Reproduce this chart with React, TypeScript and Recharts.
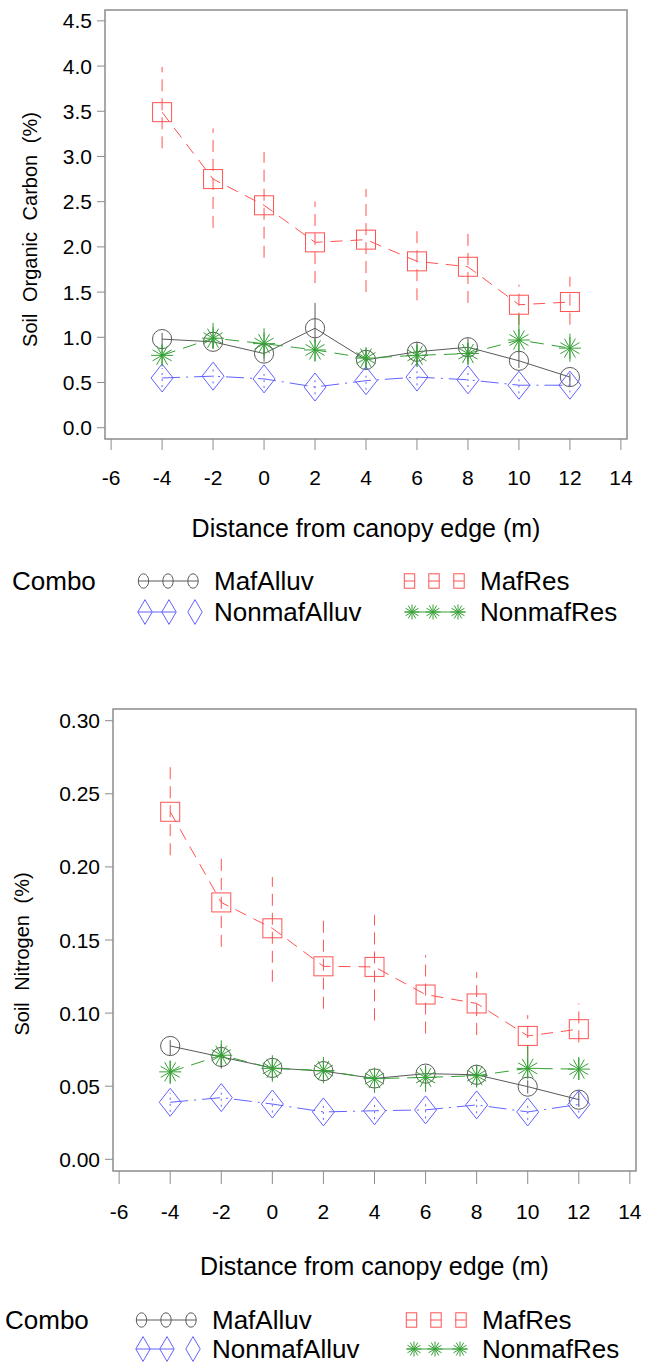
import React from 'react';
import { LineChart, Line, XAxis, YAxis, ErrorBar, ReferenceArea } from 'recharts';

// sampling positions (m from canopy edge) and axis ticks
const distance = [-4, -2, 0, 2, 4, 6, 8, 10, 12];
const xTicks = [-6, -4, -2, 0, 2, 4, 6, 8, 10, 12, 14];
const socTicks = [0, 0.5, 1, 1.5, 2, 2.5, 3, 3.5, 4, 4.5];
const nTicks = [0, 0.05, 0.1, 0.15, 0.2, 0.25, 0.3];

// soil organic carbon (%): mean, lower and upper bar ends
const socMafAlluv = [0.98, 0.95, 0.82, 1.1, 0.75, 0.84, 0.89, 0.74, 0.56];
const socMafAlluvLow = [0.88, 0.88, 0.73, 0.95, 0.64, 0.69, 0.73, 0.66, 0.47];
const socMafAlluvHigh = [1.05, 1.02, 0.91, 1.38, 0.86, 0.95, 0.99, 0.84, 0.6];
const socMafRes = [3.49, 2.75, 2.46, 2.05, 2.08, 1.84, 1.78, 1.36, 1.39];
const socMafResLow = [3.09, 2.21, 1.88, 1.6, 1.5, 1.41, 1.38, 1.14, 1.14];
const socMafResHigh = [3.99, 3.31, 3.05, 2.5, 2.64, 2.25, 2.18, 1.58, 1.67];
const socNonmafAlluv = [0.55, 0.57, 0.54, 0.45, 0.52, 0.56, 0.53, 0.47, 0.47];
const socNonmafAlluvLow = [0.45, 0.49, 0.44, 0.37, 0.42, 0.47, 0.45, 0.38, 0.39];
const socNonmafAlluvHigh = [0.66, 0.66, 0.64, 0.53, 0.61, 0.65, 0.62, 0.56, 0.55];
const socNonmafRes = [0.8, 0.99, 0.93, 0.86, 0.77, 0.8, 0.82, 0.97, 0.88];
const socNonmafResLow = [0.69, 0.88, 0.77, 0.73, 0.66, 0.67, 0.69, 0.83, 0.73];
const socNonmafResHigh = [0.91, 1.16, 1.1, 0.97, 0.88, 0.91, 0.94, 1.25, 1.04];

// soil nitrogen (%)
const nMafAlluv = [0.0775, 0.07, 0.0625, 0.0603, 0.0553, 0.0586, 0.0578, 0.0497, 0.0408];
const nMafAlluvLow = [0.0712, 0.062, 0.059, 0.0541, 0.0495, 0.0518, 0.0512, 0.045, 0.036];
const nMafAlluvHigh = [0.0815, 0.0758, 0.0678, 0.0666, 0.0609, 0.0643, 0.0636, 0.054, 0.047];
const nMafRes = [0.2377, 0.1757, 0.158, 0.132, 0.1316, 0.1127, 0.1066, 0.0844, 0.089];
const nMafResLow = [0.208, 0.1453, 0.1214, 0.103, 0.095, 0.086, 0.085, 0.07, 0.08];
const nMafResHigh = [0.2685, 0.2058, 0.193, 0.1636, 0.167, 0.1396, 0.128, 0.0986, 0.1066];
const nNonmafAlluv = [0.039, 0.0422, 0.0378, 0.0324, 0.0332, 0.0338, 0.0372, 0.0324, 0.0375];
const nNonmafAlluvLow = [0.0325, 0.036, 0.032, 0.027, 0.0275, 0.028, 0.0315, 0.027, 0.032];
const nNonmafAlluvHigh = [0.0455, 0.0487, 0.0435, 0.0378, 0.039, 0.0395, 0.043, 0.0378, 0.043];
const nNonmafRes = [0.0598, 0.0712, 0.0622, 0.0607, 0.0552, 0.056, 0.0572, 0.0622, 0.0617];
const nNonmafResLow = [0.0515, 0.063, 0.053, 0.052, 0.0454, 0.0461, 0.049, 0.056, 0.0545];
const nNonmafResHigh = [0.0676, 0.0814, 0.0712, 0.07, 0.0614, 0.062, 0.064, 0.078, 0.07];

const FONT = '"Liberation Sans", Arial, Helvetica, sans-serif';
const FRAME = '#8c8c8c';
const TICK_FONT = 21;
const LEGEND_FONT = 26;

type Shape = 'circle' | 'square' | 'diamond' | 'star';
type SeriesStyle = { key: string; name: string; color: string; dash?: string; barDash?: string; shape: Shape };

const SERIES: SeriesStyle[] = [
  { key: 'mafAlluv', name: 'MafAlluv', color: '#5a5a5a', shape: 'circle' },
  { key: 'mafRes', name: 'MafRes', color: '#ff5252', dash: '12 8', barDash: '12 7', shape: 'square' },
  { key: 'nonmafAlluv', name: 'NonmafAlluv', color: '#6262ff', dash: '18 6 2 6', barDash: '2 4', shape: 'diamond' },
  { key: 'nonmafRes', name: 'NonmafRes', color: '#34a034', dash: '14 8', shape: 'star' },
];

type Triple = [number[], number[], number[]];

const buildRows = (sets: Record<string, Triple>) =>
  distance.map((x, i) => {
    const row: Record<string, any> = { x };
    Object.entries(sets).forEach(([k, [mean, low, high]]) => {
      row[k] = mean[i];
      row[k + 'Err'] = [mean[i] - low[i], high[i] - mean[i]];
    });
    return row;
  });

const socRows = buildRows({
  mafAlluv: [socMafAlluv, socMafAlluvLow, socMafAlluvHigh],
  mafRes: [socMafRes, socMafResLow, socMafResHigh],
  nonmafAlluv: [socNonmafAlluv, socNonmafAlluvLow, socNonmafAlluvHigh],
  nonmafRes: [socNonmafRes, socNonmafResLow, socNonmafResHigh],
});

const nRows = buildRows({
  mafAlluv: [nMafAlluv, nMafAlluvLow, nMafAlluvHigh],
  mafRes: [nMafRes, nMafResLow, nMafResHigh],
  nonmafAlluv: [nNonmafAlluv, nNonmafAlluvLow, nNonmafAlluvHigh],
  nonmafRes: [nNonmafRes, nNonmafResLow, nNonmafResHigh],
});

// hollow plot symbols; rx / ry are half sizes
const Marker = ({ shape, cx, cy, color, rx, ry }: { shape: Shape; cx: number; cy: number; color: string; rx: number; ry: number }) => {
  if (cx == null || cy == null) return null;
  const common = { fill: 'none', stroke: color, strokeWidth: 1 };
  if (shape === 'circle') return <ellipse cx={cx} cy={cy} rx={rx} ry={ry} {...common} />;
  if (shape === 'square') return <rect x={cx - rx} y={cy - ry} width={rx * 2} height={ry * 2} {...common} />;
  if (shape === 'diamond')
    return <path d={`M${cx},${cy - ry}L${cx + rx},${cy}L${cx},${cy + ry}L${cx - rx},${cy}Z`} {...common} />;
  const spokes = [0, 30, 60, 90, 120, 150].map((a) => {
    const r = (a * Math.PI) / 180;
    const dx = Math.cos(r) * rx;
    const dy = Math.sin(r) * ry;
    return <line key={a} x1={cx - dx} y1={cy - dy} x2={cx + dx} y2={cy + dy} {...common} />;
  });
  return <g>{spokes}</g>;
};

const plotSize: Record<Shape, [number, number]> = {
  circle: [9.6, 9.6],
  square: [9.5, 9.5],
  diamond: [11, 14],
  star: [11, 11],
};

const legendSize: Record<Shape, [number, number]> = {
  circle: [5.2, 7.2],
  square: [5.2, 7.2],
  diamond: [7.2, 12.4],
  star: [7.5, 7.5],
};

const yTitle = (text: string, dx: number, dy: number) => (props: any) => {
  const vb = props.viewBox ?? { x: 0, y: 0, width: 0, height: 0 };
  const x = vb.x + dx;
  const y = vb.y + vb.height / 2 + dy;
  return (
    <text x={x} y={y} transform={`rotate(-90 ${x} ${y})`} textAnchor="middle"
      fontFamily={FONT} fontSize={20} fill="#000" style={{ wordSpacing: 6 }}>
      {text}
    </text>
  );
};

// tick label renderers, so the size and face are set on the text itself
const XTick = (props: any) => (
  <text x={props.x} y={props.y} dy="0.71em" textAnchor="middle" fontFamily={FONT} fontSize={TICK_FONT} fill="#000">
    {props.payload.value}
  </text>
);

const yTick = (digits: number) => (props: any) => (
  <text x={props.x} y={props.y} dy="0.36em" textAnchor="end" fontFamily={FONT} fontSize={TICK_FONT} fill="#000">
    {Number(props.payload.value).toFixed(digits)}
  </text>
);

type ChartProps = {
  rows: Record<string, any>[];
  yTicks: number[];
  yDomain: [number, number];
  digits: number;
  yLabel: string;
  top: number;
  height: number;
  marginTop: number;
  marginRight: number;
  yWidth: number;
  xHeight: number;
  tickLen: number;
  titleOffset: number;
  yTitleDx: number;
  yTitleDy: number;
};

const xDomain: [number, number] = [-6.24, 14.24];

const NutrientChart = (p: ChartProps) => (
  <div style={{ position: 'absolute', left: 0, top: p.top }}>
    <LineChart width={647} height={p.height} data={p.rows}
      margin={{ top: p.marginTop, right: p.marginRight, left: 0, bottom: 0 }}>
      <ReferenceArea x1={xDomain[0]} x2={xDomain[1]} y1={p.yDomain[0]} y2={p.yDomain[1]}
        fill="none" stroke={FRAME} strokeWidth={1.5} ifOverflow="visible" />
      <XAxis type="number" dataKey="x" domain={xDomain} ticks={xTicks} allowDataOverflow
        axisLine={false} tickSize={p.tickLen} tickMargin={20} height={p.xHeight}
        tickLine={{ stroke: FRAME }} tick={<XTick />}
        label={{ value: 'Distance from canopy edge (m)', position: 'insideBottom', offset: p.titleOffset,
          fill: '#000', fontSize: 25, fontFamily: FONT }} />
      <YAxis type="number" domain={p.yDomain} ticks={p.yTicks} allowDataOverflow
        axisLine={false} tickSize={8} tickMargin={5} width={p.yWidth}
        tickLine={{ stroke: FRAME }} tick={yTick(p.digits)}
        label={{ content: yTitle(p.yLabel, p.yTitleDx, p.yTitleDy) }} />
      {SERIES.map((s) => (
        <Line key={s.key} dataKey={s.key} name={s.name} type="linear" stroke={s.color} strokeWidth={1}
          strokeDasharray={s.dash} isAnimationActive={false} activeDot={false}
          dot={(d: any) => (
            <Marker key={`${s.key}-${d.index}`} shape={s.shape} cx={d.cx} cy={d.cy} color={s.color}
              rx={plotSize[s.shape][0]} ry={plotSize[s.shape][1]} />
          )}>
          <ErrorBar dataKey={s.key + 'Err'} direction="y" width={0} stroke={s.color} strokeWidth={1}
            strokeDasharray={s.barDash} isAnimationActive={false} />
        </Line>
      ))}
    </LineChart>
  </div>
);

// legend block: "Combo" followed by two columns of symbol triplets
const legendSlots = [
  { key: 'mafAlluv', x: 143.5, row: 0, textX: 214, marks: [0, 24.5, 49.5] },
  { key: 'mafRes', x: 409.5, row: 0, textX: 480, marks: [0, 24.5, 49.5] },
  { key: 'nonmafAlluv', x: 145, row: 1, textX: 214, marks: [0, 24, 50] },
  { key: 'nonmafRes', x: 412, row: 1, textX: 480, marks: [0, 21, 46] },
];

const legendDash = (key: string, rx: number, step: number) => {
  if (key === 'mafRes') return `${rx * 2} ${step - rx * 2}`;
  if (key === 'nonmafAlluv') return '38 200';
  return undefined;
};

const ComboLegend = ({ top, rowGap, comboX, shift }: { top: number; rowGap: number; comboX: number; shift: number }) => (
  <svg width={647} height={rowGap + 34} style={{ position: 'absolute', left: 0, top }}>
    <text x={comboX} y={17} dominantBaseline="central" fontFamily={FONT} fontSize={LEGEND_FONT}>Combo</text>
    {legendSlots.map((slot) => {
      const s = SERIES.find((e) => e.key === slot.key)!;
      const cy = 17 + slot.row * rowGap;
      const x0 = slot.x + (slot.x > 300 ? shift : -shift);
      const [rx, ry] = legendSize[s.shape];
      const first = x0 + slot.marks[0];
      const last = x0 + slot.marks[2];
      return (
        <g key={slot.key}>
          <line x1={first - rx} x2={last + rx} y1={cy} y2={cy} stroke={s.color} strokeWidth={1}
            strokeDasharray={legendDash(s.key, rx, slot.marks[1])} />
          {slot.marks.map((m) => (
            <Marker key={m} shape={s.shape} cx={x0 + m} cy={cy} color={s.color} rx={rx} ry={ry} />
          ))}
          <text x={slot.textX + (slot.x > 300 ? shift : -shift)} y={cy} dominantBaseline="central"
            fontFamily={FONT} fontSize={LEGEND_FONT}>{s.name}</text>
        </g>
      );
    })}
  </svg>
);

export default function App() {
  return (
    <div style={{ position: 'absolute', left: 0, top: 0, width: 647, height: 1365, background: '#fff' }}>
      <NutrientChart rows={socRows} yTicks={socTicks} yDomain={[-0.125, 4.62]} digits={1}
        yLabel="Soil Organic Carbon (%)" top={0} height={552} marginTop={10} marginRight={20}
        yWidth={105} xHeight={113} tickLen={11} titleOffset={15} yTitleDx={37} yTitleDy={5} />
      <ComboLegend top={564} rowGap={31} comboX={12} shift={0} />
      <NutrientChart rows={nRows} yTicks={nTicks} yDomain={[-0.008, 0.308]} digits={2}
        yLabel="Soil Nitrogen (%)" top={690} height={600} marginTop={19} marginRight={11}
        yWidth={113} xHeight={119} tickLen={13} titleOffset={15} yTitleDx={29} yTitleDy={14} />
      <ComboLegend top={1303} rowGap={29} comboX={5} shift={2} />
    </div>
  );
}
